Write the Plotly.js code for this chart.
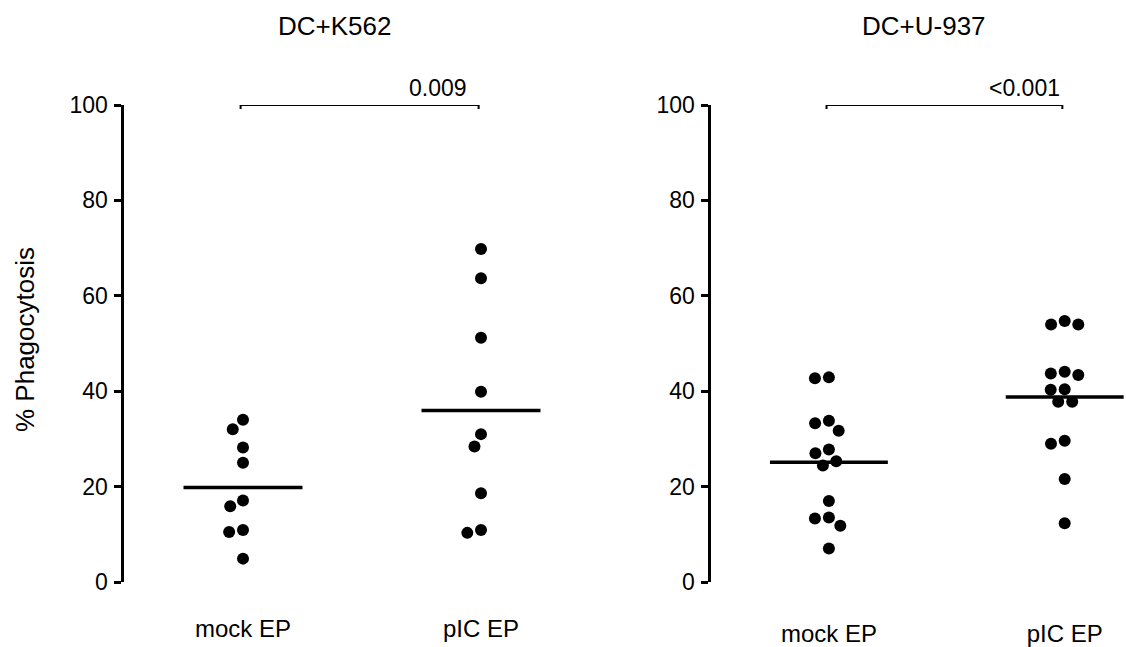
<!DOCTYPE html>
<html>
<head>
<meta charset="utf-8">
<script src="https://cdn.plot.ly/plotly-3.0.1.min.js"></script>
<style>
  html, body { margin: 0; padding: 0; background: #ffffff; }
  #chart { width: 1126px; height: 647px; }
</style>
</head>
<body>
<div id="chart"></div>
<script>
// ---- data ----
var panelTitles = ['DC+K562', 'DC+U-937'];
var categories = ['mock EP', 'pIC EP'];
var yAxisTitle = '% Phagocytosis';
var yTicks = [0, 20, 40, 60, 80, 100];

var k562Mock = [34, 32, 28.2, 25, 17.1, 15.9, 10.9, 10.5, 4.9];
var k562PIC  = [69.8, 63.7, 51.2, 39.9, 31.0, 28.4, 18.6, 10.9, 10.3];
var u937Mock = [42.9, 42.7, 33.8, 33.3, 31.7, 27.8, 27.0, 25.3, 24.4, 17.0, 13.5, 13.3, 11.8, 7.0];
var u937PIC  = [54.7, 54.0, 54.0, 44.1, 43.7, 43.4, 40.4, 40.3, 37.8, 37.8, 29.6, 29.0, 21.6, 12.3];

var pValues = ['0.009', '<0.001'];
var comparison = [1, 2];   // categories compared by the bracket

// ---- layout geometry ----
var W = 1126, H = 647;
var yDomain = [(H - 582) / H, (H - 105) / H];
var xDomA = [124 / W, 600 / W], xRangeA = [0.5, 2.5];
var xDomB = [711 / W, 1], xRangeB = [0.5, 2.26];
var plotHpx = 477;
var FONT = 'Liberation Sans, Arial, Helvetica, sans-serif';
var INK = '#000000';

function mean(a) { return a.reduce(function (s, v) { return s + v; }, 0) / a.length; }

// simple beeswarm: offsets (in x data units) so dots don't overlap
function swarm(values, pxPerX, pxPerY, d) {
  var idx = values.map(function (v, i) { return i; })
    .sort(function (a, b) { return values[b] - values[a]; });
  var placed = [];
  var off = new Array(values.length);
  idx.forEach(function (i) {
    var y = values[i] * pxPerY;
    var cands = [0];
    placed.forEach(function (p) {
      var dy = Math.abs(p.y - y);
      if (dy < d) {
        var dx = Math.sqrt(d * d - dy * dy);
        cands.push(p.x - dx, p.x + dx);
      }
    });
    cands.sort(function (a, b) { return Math.abs(a) - Math.abs(b) || a - b; });
    var best = 0;
    for (var c = 0; c < cands.length; c++) {
      var ok = placed.every(function (p) {
        var dx = p.x - cands[c], dy = p.y - y;
        return dx * dx + dy * dy >= d * d - 0.01;
      });
      if (ok) { best = cands[c]; break; }
    }
    placed.push({ x: best, y: y });
    off[i] = best / pxPerX;
  });
  return off;
}

var traces = [];
var panels = [
  { groups: [k562Mock, k562PIC], xa: 'x', ya: 'y', dom: xDomA, rng: xRangeA, p: pValues[0] },
  { groups: [u937Mock, u937PIC], xa: 'x2', ya: 'y2', dom: xDomB, rng: xRangeB, p: pValues[1] }
];

panels.forEach(function (pn) {
  var pxPerX = (pn.dom[1] - pn.dom[0]) * W / (pn.rng[1] - pn.rng[0]);
  var pxPerY = plotHpx / 100;
  pn.groups.forEach(function (vals, gi) {
    var c = gi + 1;
    var offs = swarm(vals, pxPerX, pxPerY, 14);
    traces.push({
      type: 'scatter', mode: 'markers', xaxis: pn.xa, yaxis: pn.ya,
      x: vals.map(function (v, i) { return c + offs[i]; }),
      y: vals,
      marker: { color: INK, size: 12 },
      cliponaxis: false, hoverinfo: 'y', showlegend: false
    });
    var m = mean(vals);
    traces.push({
      type: 'scatter', mode: 'lines', xaxis: pn.xa, yaxis: pn.ya,
      x: [c - 0.25, c + 0.25], y: [m, m],
      line: { color: INK, width: 3.5 },
      hoverinfo: 'skip', showlegend: false
    });
  });
  // significance bracket drawn as a horizontal error bar between the compared groups
  var a = comparison[0], b = comparison[1];
  traces.push({
    type: 'scatter', mode: 'markers', xaxis: pn.xa, yaxis: pn.ya,
    x: [(a + b) / 2 - 0.01], y: [100],
    marker: { size: 1, opacity: 0 },
    error_x: { type: 'data', array: [(b - a) / 2], symmetric: true,
               color: INK, thickness: 2, width: 4 },
    cliponaxis: false, hoverinfo: 'skip', showlegend: false
  });
});

function yAxis(anchor, standoff) {
  return {
    domain: yDomain, anchor: anchor, range: [0, 100], tickvals: yTicks,
    showline: true, linecolor: INK, linewidth: 3.5,
    ticks: 'outside', ticklen: 7, tickwidth: 3, tickcolor: INK,
    showgrid: false, zeroline: false,
    tickfont: { family: FONT, size: 23, color: INK },
    ticklabelstandoff: standoff, fixedrange: true
  };
}
function xAxis(anchor, dom, rng, standoff) {
  return {
    domain: dom, anchor: anchor, range: rng,
    tickvals: [1, 2], ticktext: categories,
    showline: false, ticks: '', showgrid: false, zeroline: false,
    tickfont: { family: FONT, size: 24, color: INK },
    ticklabelstandoff: standoff, fixedrange: true
  };
}

var annFont = { family: FONT, size: 23, color: INK };
var layout = {
  width: W, height: H,
  margin: { l: 0, r: 0, t: 0, b: 0 },
  paper_bgcolor: '#ffffff', plot_bgcolor: 'rgba(0,0,0,0)',
  showlegend: false,
  xaxis: xAxis('y', xDomA, xRangeA, 30),
  yaxis: yAxis('x', 1),
  xaxis2: xAxis('y2', xDomB, xRangeB, 35),
  yaxis2: yAxis('x2', 1),
  annotations: [
    { text: panelTitles[0], xref: 'paper', yref: 'paper', x: 334 / W, y: (H - 26) / H,
      xanchor: 'center', yanchor: 'middle', showarrow: false,
      font: { family: FONT, size: 26, color: INK } },
    { text: panelTitles[1], xref: 'paper', yref: 'paper', x: 924 / W, y: (H - 26) / H,
      xanchor: 'center', yanchor: 'middle', showarrow: false,
      font: { family: FONT, size: 26, color: INK } },
    { text: yAxisTitle, xref: 'paper', yref: 'paper', x: 25 / W, y: (H - 340) / H,
      xanchor: 'center', yanchor: 'middle', textangle: -90, showarrow: false,
      font: { family: FONT, size: 26, color: INK } },
    { text: pValues[0], xref: 'x', yref: 'y', x: 1.82, y: 100,
      xanchor: 'center', yanchor: 'bottom', yshift: 2, showarrow: false, font: annFont },
    { text: pValues[1], xref: 'x2', yref: 'y2', x: 1.83, y: 100,
      xanchor: 'center', yanchor: 'bottom', yshift: 2, showarrow: false, font: annFont }
  ]
};

Plotly.newPlot('chart', traces, layout, { displayModeBar: false, staticPlot: true });
</script>
</body>
</html>
